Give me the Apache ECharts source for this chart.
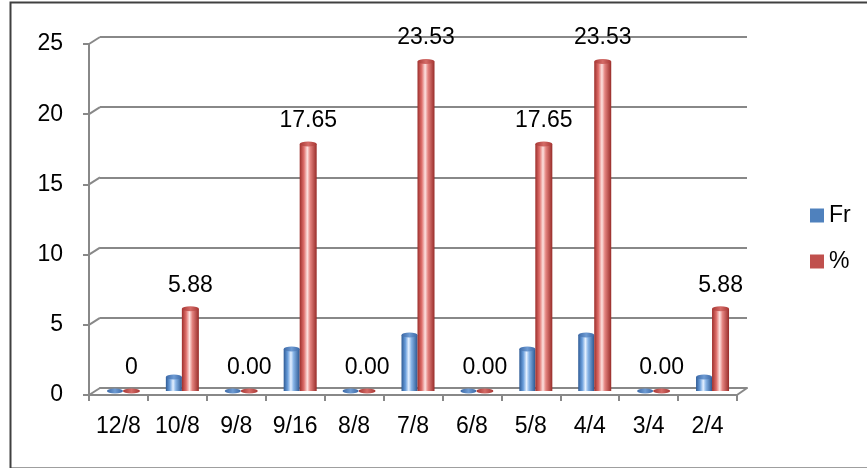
<!DOCTYPE html>
<html>
<head>
<meta charset="utf-8">
<script src="https://cdn.jsdelivr.net/npm/echarts@6/dist/echarts.min.js"></script>
<style>html,body{margin:0;padding:0;background:#fff}#c{width:867px;height:468px}</style>
</head>
<body>
<div id="c"></div>
<script>
const categories = ['12/8','10/8','9/8','9/16','8/8','7/8','6/8','5/8','4/4','3/4','2/4'];
const frValues = [0, 1, 0, 3, 0, 4, 0, 3, 4, 0, 1];
const pctValues = [0, 5.88, 0, 17.65, 0, 23.53, 0, 17.65, 23.53, 0, 5.88];
const pctLabels = ['0','5.88','0.00','17.65','0.00','23.53','0.00','17.65','23.53','0.00','5.88'];
const yTicks = [0, 5, 10, 15, 20, 25];

const FONT = '"Liberation Sans", Arial, sans-serif';
const FS = 23;
const axisGray = '#888888';

function cyl(stops) {
  return new echarts.graphic.LinearGradient(0, 0, 1, 0, stops.map(c => ({offset: c[0], color: c[1]})));
}
const blueGrad = cyl([[0,'#2e5b96'],[0.25,'#6b9fdc'],[0.45,'#e4f0ff'],[0.62,'#86b3e6'],[1,'#2c5892']]);
const redGrad = cyl([[0,'#9c2e2b'],[0.25,'#df6f6b'],[0.45,'#fde2e0'],[0.62,'#e4837f'],[1,'#982c29']]);
const blueCap = cyl([[0,'#3b68a6'],[0.5,'#6e9bd3'],[1,'#3b68a6']]);
const redCap = cyl([[0,'#a83633'],[0.5,'#d46b67'],[1,'#a83633']]);

const chart = echarts.init(document.getElementById('c'), null, {renderer: 'canvas'});
chart.setOption({
  animation: false,
  backgroundColor: '#fff',
  textStyle: {fontFamily: FONT},
  legend: {
    orient: 'vertical', left: 805, top: 199,
    itemWidth: 14, itemHeight: 14, itemGap: 23,
    textStyle: {fontFamily: FONT, fontSize: FS, color: '#000'},
    data: [
      {name: 'Fr', icon: 'rect', itemStyle: {color: '#4f81bd'}},
      {name: '%', icon: 'rect', itemStyle: {color: '#c0504d'}}
    ]
  },
  grid: [
    {left: 89, right: 130, top: 44, bottom: 73},
    {left: 100, right: 120, top: 37, bottom: 80},
    {left: 94, right: 125, top: 41, bottom: 77}
  ],
  xAxis: [
    {type: 'category', gridIndex: 0, data: categories,
     axisLine: {lineStyle: {color: axisGray, width: 2}},
     axisTick: {show: true, alignWithLabel: false, length: 6, lineStyle: {color: axisGray, width: 2}},
     axisLabel: {color: '#000', fontSize: FS, fontFamily: FONT, margin: 20, interval: 0}},
    {type: 'category', gridIndex: 1, data: categories,
     axisLine: {lineStyle: {color: axisGray, width: 2}}, axisTick: {show: false}, axisLabel: {show: false}},
    {type: 'category', gridIndex: 2, data: categories, show: false}
  ],
  yAxis: [
    {type: 'value', gridIndex: 0, min: 0, max: 25, interval: 5,
     axisLine: {show: true, lineStyle: {color: axisGray, width: 2}},
     axisTick: {show: true, length: 6, lineStyle: {color: axisGray, width: 2}},
     splitLine: {show: false},
     axisLabel: {color: '#000', fontSize: FS, fontFamily: FONT, margin: 26}},
    {type: 'value', gridIndex: 1, min: 0, max: 25, interval: 5,
     axisLine: {show: false}, axisTick: {show: false}, axisLabel: {show: false},
     splitLine: {show: true, lineStyle: {color: axisGray, width: 2}}},
    {type: 'value', gridIndex: 2, min: 0, max: 25, show: false, splitLine: {show: false}}
  ],
  series: [
    {name: 'Fr', type: 'bar', xAxisIndex: 2, yAxisIndex: 2, data: frValues,
     barWidth: 16, barGap: '0%', z: 5,
     itemStyle: {color: blueGrad}},
    {name: '%', type: 'bar', xAxisIndex: 2, yAxisIndex: 2, data: pctValues,
     barWidth: 17, barGap: '0%', z: 5,
     itemStyle: {color: redGrad},
     label: {show: true, position: 'top', distance: 12, color: '#000', fontSize: FS, fontFamily: FONT,
       formatter: p => pctLabels[p.dataIndex]}},
    {name: 'Fr', type: 'pictorialBar', xAxisIndex: 2, yAxisIndex: 2, data: frValues,
     barWidth: 16, barGap: '0%', z: 6, symbol: 'circle', symbolSize: [16, 5],
     symbolPosition: 'end', symbolOffset: [0, '-50%'], itemStyle: {color: blueCap}},
    {name: '%', type: 'pictorialBar', xAxisIndex: 2, yAxisIndex: 2, data: pctValues,
     barWidth: 17, barGap: '0%', z: 6, symbol: 'circle', symbolSize: [17, 5],
     symbolPosition: 'end', symbolOffset: [0, '-50%'], itemStyle: {color: redCap}}
  ]
});

// 3D wall connectors between front axis and back wall (decoration only, positioned via axis scales)
const gfx = [{
  type: 'rect', left: 8, top: 0, z: 100, silent: true,
  shape: {width: 870, height: 466},
  style: {fill: 'none', stroke: '#404040', lineWidth: 2}
}];
const r0 = chart.getModel().getComponent('grid', 0).coordinateSystem.getRect();
const r1 = chart.getModel().getComponent('grid', 1).coordinateSystem.getRect();
yTicks.forEach(v => {
  const f = chart.convertToPixel({gridIndex: 0}, [0, v]);
  const b = chart.convertToPixel({gridIndex: 1}, [0, v]);
  gfx.push({type: 'line', z: 1, silent: true,
    shape: {x1: r0.x, y1: f[1], x2: r1.x, y2: b[1]},
    style: {stroke: axisGray, lineWidth: 2}});
});
gfx.push({type: 'line', z: 1, silent: true,
  shape: {x1: r0.x + r0.width, y1: r0.y + r0.height, x2: r1.x + r1.width, y2: r1.y + r1.height},
  style: {stroke: axisGray, lineWidth: 2}});
chart.setOption({graphic: gfx});
</script>
</body>
</html>
